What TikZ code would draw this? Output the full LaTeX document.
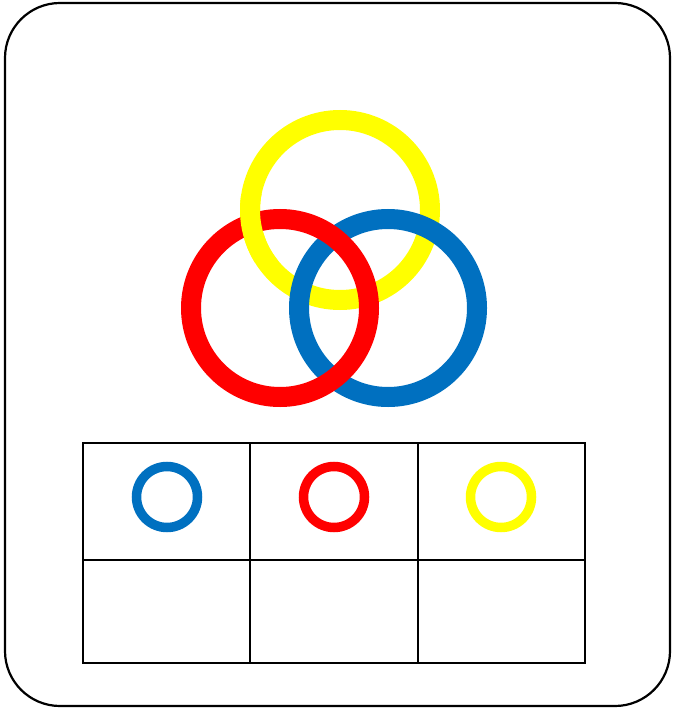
\documentclass[tikz,border=0pt]{standalone}
\usepackage{tikz}
\usepackage{xcolor}
\definecolor{ringblue}{HTML}{0070C0}
\definecolor{ringred}{HTML}{FF0000}
\definecolor{ringyellow}{HTML}{FFFF00}

\begin{document}
\begin{tikzpicture}[
    x=1pt, y=-1pt,
    frame/.style={draw=black, line width=2.2pt, rounded corners=55pt},
    grid/.style={draw=black, line width=2.4pt},
    bigring/.style={line width=20pt},
    smallring/.style={line width=9.5pt},
]
\useasboundingbox (0,0) rectangle (672,708);

% outer card
\draw[frame] (5,3) rectangle (670,706);

% interlocked rings
\coordinate (yc) at (340,210);
\coordinate (rc) at (280,308);
\coordinate (bc) at (388,308);
\draw[bigring, ringyellow] (yc) circle[radius=90];
\draw[bigring, ringblue]   (bc) circle[radius=89];
\draw[bigring, ringred]    (rc) circle[radius=89];
\begin{scope}
  \clip (222,195) rectangle (278,262);
  \draw[bigring, ringyellow] (yc) circle[radius=90];
\end{scope}

% table
\draw[grid] (83,443) rectangle (585,663);
\draw[grid] (83,560) -- (585,560);
\foreach \xcol in {250,418}
  \draw[grid] (\xcol,443) -- (\xcol,663);

% legend rings
\foreach \xpos/\col in {167/ringblue, 334/ringred, 501/ringyellow}
  \draw[smallring, \col] (\xpos,497) circle[radius=30.5];
\end{tikzpicture}
\end{document}
